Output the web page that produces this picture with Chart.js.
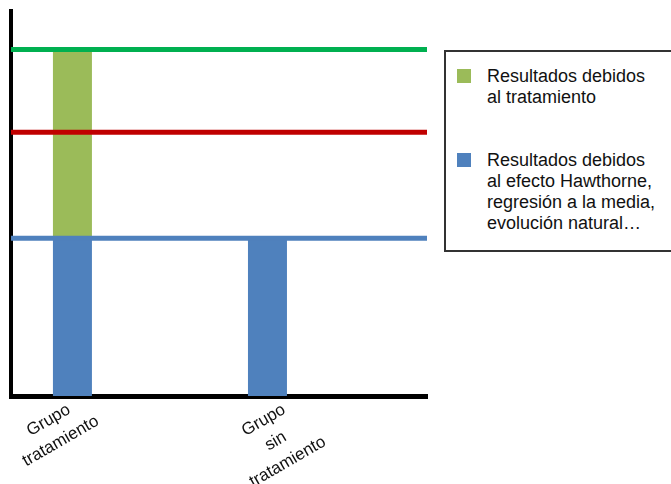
<!DOCTYPE html>
<html lang="es">
<head>
<meta charset="utf-8">
<title>Efecto del tratamiento frente a otros efectos</title>
<script src="https://cdn.jsdelivr.net/npm/chart.js@4/dist/chart.umd.min.js"></script>
<style>
  html, body { margin: 0; padding: 0; background: #fff; overflow: hidden; }
  #wrap { position: relative; width: 671px; height: 484px; }
  #chart { position: absolute; left: 0; top: 0; }
  #legend {
    position: absolute; left: 444px; top: 50px; width: 260px;
    box-sizing: border-box; height: 202px;
    border: 2px solid #333; background: #fff;
    padding: 14px 0 16px 11px;
    font-family: "Liberation Sans", Arial, Helvetica, sans-serif;
    font-size: 18px; line-height: 21px; color: #111;
  }
  .item { display: flex; align-items: flex-start; }
  .item + .item { margin-top: 42px; }
  .swatch { width: 14px; height: 14px; margin-top: 3px; margin-right: 16px; flex: none; }
</style>
</head>
<body>
<div id="wrap">
  <canvas id="chart" width="671" height="484"></canvas>
  <div id="legend"></div>
</div>
<script>
// Groups on the horizontal axis (each entry is one label, split into lines)
const categories = [
  ['Grupo', 'tratamiento'],
  ['Grupo', 'sin', 'tratamiento']
];
// Position of each group on the index axis
const categoryIndex = [0, 1];

// Bar segments per group
const baseEffect = [41, 41];        // Hawthorne, regresión a la media, evolución natural
const treatmentEffect = [49, 0];    // added on top by the treatment

// Horizontal reference levels
const levelTotal = 90;
const levelMiddle = 68.5;
const levelBase = 41;

// Legend entries (lines as shown)
const treatmentLabel = ['Resultados debidos', 'al tratamiento'];
const baseLabel = ['Resultados debidos', 'al efecto Hawthorne,', 'regresión a la media,', 'evolución natural…'];

const COLORS = {
  barBase: '#4F81BD',
  barTreatment: '#9BBB59',
  lineTotal: '#00B050',
  lineMiddle: '#C00000',
  lineBase: '#4F81BD',
  axis: '#000000'
};
const FONT = '"Liberation Sans", Arial, Helvetica, sans-serif';

const toPoints = values => categoryIndex.map((x, i) => ({ x: x, y: values[i] }));
const flatLine = level => [{ x: 0, y: level }, { x: 1, y: level }];

function lineDataset(level, color, stack) {
  return {
    type: 'line',
    data: flatLine(level),
    xAxisID: 'xl',
    stack: stack,
    borderColor: color,
    borderWidth: 5,
    borderCapStyle: 'butt',
    pointRadius: 0,
    fill: false
  };
}

function barDataset(label, values, color) {
  return {
    label: label,
    data: toPoints(values),
    backgroundColor: color,
    stack: 'bars',
    grouped: false,
    maxBarThickness: 39
  };
}

// Rotated, multi-line group labels drawn under the axis at each group's position
const groupLabels = {
  id: 'groupLabels',
  afterDraw(chart, args, opts) {
    const { ctx, scales, chartArea } = chart;
    const xs = scales.x;
    ctx.save();
    ctx.fillStyle = opts.color;
    ctx.font = opts.font;
    ctx.textAlign = 'center';
    ctx.textBaseline = 'top';
    categories.forEach((lines, i) => {
      const px = xs.getPixelForValue(categoryIndex[i]) + (opts.nudge[i] || 0);
      const py = chartArea.bottom + opts.offset;
      ctx.save();
      ctx.translate(px, py);
      ctx.rotate(-opts.angle * Math.PI / 180);
      lines.forEach((t, k) => ctx.fillText(t, 0, k * opts.lineHeight));
      ctx.restore();
    });
    ctx.restore();
  }
};

const chart = new Chart(document.getElementById('chart'), {
  type: 'bar',
  data: {
    datasets: [
      lineDataset(levelTotal, COLORS.lineTotal, 'l1'),
      lineDataset(levelMiddle, COLORS.lineMiddle, 'l2'),
      lineDataset(levelBase, COLORS.lineBase, 'l3'),
      barDataset(baseLabel.join(' '), baseEffect, COLORS.barBase),
      barDataset(treatmentLabel.join(' '), treatmentEffect, COLORS.barTreatment)
    ]
  },
  options: {
    responsive: false,
    animation: false,
    events: [],
    layout: { padding: { left: 11, top: 11, right: 244, bottom: 88 } },
    plugins: {
      legend: { display: false },
      tooltip: { enabled: false },
      groupLabels: {
        color: '#111',
        font: '17px ' + FONT,
        angle: 30,
        lineHeight: 24,
        offset: 17,
        nudge: [-28, -8]
      }
    },
    scales: {
      x: {
        type: 'linear',
        min: -0.315,
        max: 1.818,
        offset: false,
        stacked: true,
        z: 1,
        grid: { display: false, drawTicks: false },
        ticks: { display: false },
        border: { display: true, color: COLORS.axis, width: 5 }
      },
      xl: {
        type: 'linear',
        min: 0,
        max: 1,
        offset: false,
        display: false
      },
      y: {
        type: 'linear',
        min: 0,
        max: 100,
        stacked: true,
        z: 1,
        grid: { display: false, drawTicks: false },
        ticks: { display: false },
        border: { display: true, color: COLORS.axis, width: 4 }
      }
    }
  },
  plugins: [groupLabels]
});

// Legend built from the bar colours and labels
const legendEntries = [
  { color: COLORS.barTreatment, lines: treatmentLabel },
  { color: COLORS.barBase, lines: baseLabel }
];
const legendEl = document.getElementById('legend');
legendEntries.forEach(e => {
  const item = document.createElement('div');
  item.className = 'item';
  const sw = document.createElement('span');
  sw.className = 'swatch';
  sw.style.background = e.color;
  const txt = document.createElement('div');
  e.lines.forEach(l => {
    const ln = document.createElement('div');
    ln.textContent = l;
    txt.appendChild(ln);
  });
  item.appendChild(sw);
  item.appendChild(txt);
  legendEl.appendChild(item);
});
</script>
</body>
</html>
